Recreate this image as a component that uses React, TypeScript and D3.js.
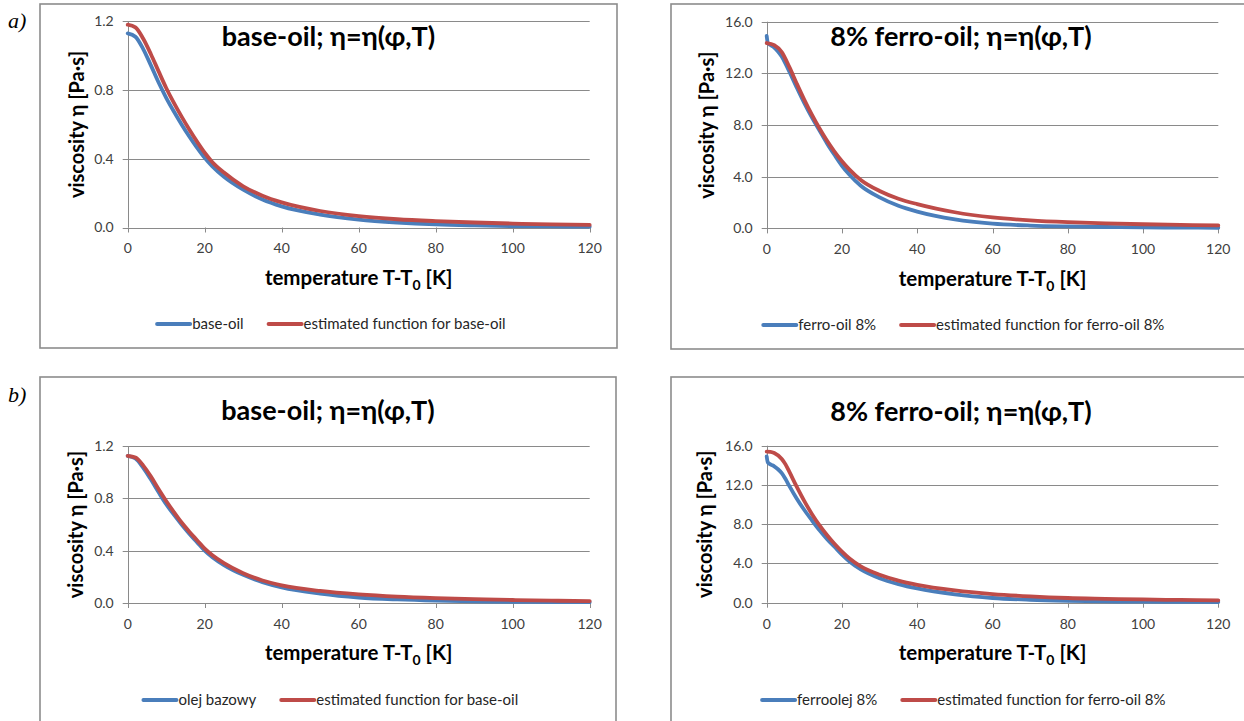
import React from 'react';
import * as d3 from 'd3';

// ---------- data ----------
const tempGrid = [0, 2, 4, 6, 8, 10, 12, 14, 16, 18, 20, 22, 25, 30, 35, 40, 50, 60, 70, 80, 90, 100, 110, 120];
const ferroTempMeasured = [0, 0.3, 1, 2, 3, 4, 5, 6, 8, 10, 12, 14, 16, 18, 20, 22, 25, 30, 35, 40, 50, 60, 70, 80, 90, 100, 110, 120];
const ferroTempEstimatedB = [0, 1, 2, 4, 5, 6, 8, 10, 12, 14, 16, 18, 20, 22, 25, 30, 35, 40, 50, 60, 70, 80, 90, 100, 110, 120];

const baseOilMeasuredA = [1.13, 1.11, 1.04, 0.945, 0.845, 0.755, 0.675, 0.6, 0.53, 0.465, 0.405, 0.355, 0.295, 0.22, 0.163, 0.123, 0.075, 0.046, 0.029, 0.018, 0.012, 0.008, 0.006, 0.005];
const baseOilEstimatedA = [1.18, 1.165, 1.1, 1.01, 0.91, 0.812, 0.725, 0.645, 0.57, 0.5, 0.435, 0.38, 0.32, 0.24, 0.185, 0.146, 0.096, 0.066, 0.048, 0.037, 0.029, 0.023, 0.018, 0.015];

const ferroMeasuredA = [14.9, 14.35, 14.2, 14.0, 13.7, 13.3, 12.75, 12.15, 10.9, 9.7, 8.6, 7.6, 6.6, 5.7, 4.85, 4.15, 3.3, 2.4, 1.75, 1.3, 0.7, 0.37, 0.22, 0.15, 0.11, 0.08, 0.06, 0.05];
const ferroEstimatedA = [14.35, 14.18, 13.65, 12.5, 11.2, 9.95, 8.8, 7.75, 6.8, 5.95, 5.2, 4.55, 3.75, 2.9, 2.3, 1.88, 1.25, 0.85, 0.62, 0.48, 0.39, 0.32, 0.27, 0.23];

const baseOilMeasuredB = [1.125, 1.105, 1.035, 0.945, 0.848, 0.755, 0.675, 0.6, 0.53, 0.465, 0.4, 0.35, 0.29, 0.215, 0.16, 0.12, 0.072, 0.042, 0.027, 0.018, 0.013, 0.009, 0.007, 0.006];
const baseOilEstimatedB = [1.125, 1.112, 1.052, 0.968, 0.872, 0.78, 0.695, 0.615, 0.545, 0.48, 0.415, 0.365, 0.305, 0.228, 0.172, 0.135, 0.092, 0.066, 0.049, 0.038, 0.03, 0.023, 0.018, 0.015];

const ferroMeasuredB = [14.9, 14.3, 14.1, 13.9, 13.6, 13.2, 12.6, 11.9, 10.6, 9.45, 8.4, 7.4, 6.5, 5.7, 4.9, 4.2, 3.4, 2.5, 1.9, 1.45, 0.85, 0.48, 0.3, 0.2, 0.14, 0.1, 0.08, 0.07];
const ferroEstimatedB = [15.4, 15.38, 15.25, 14.65, 14.1, 13.35, 11.8, 10.35, 9.05, 7.9, 6.9, 6.0, 5.2, 4.5, 3.7, 2.85, 2.25, 1.82, 1.25, 0.88, 0.64, 0.48, 0.4, 0.33, 0.28, 0.24];

const xTicks = [0, 20, 40, 60, 80, 100, 120];
const yTicksBase = [0, 0.4, 0.8, 1.2];
const yTicksFerro = [0, 4, 8, 12, 16];

const BLUE = '#4a7ebb';
const RED = '#be4b48';
const FONT = "Lato, 'Open Sans', 'DejaVu Sans', sans-serif";

let ctx: CanvasRenderingContext2D | null = null;
function textWidth(s: string, font: string) {
  if (!ctx) ctx = document.createElement('canvas').getContext('2d');
  if (!ctx) return s.length * 7;
  ctx.font = font;
  return ctx.measureText(s).width;
}

type Series = { t: number[]; v: number[]; color: string; label: string };

type PanelProps = {
  fx: number; fy: number; fw: number; fh: number;
  px0: number; px1: number; py0: number; py1: number;
  yMax: number; yTicks: number[];
  title: string; titleY: number; ticksY: number; xTitleY: number; legendY: number; yTitleX: number;
  series: Series[];
};

function Panel(p: PanelProps) {
  const x = d3.scaleLinear().domain([0, 120]).range([p.px0, p.px1]);
  const y = d3.scaleLinear().domain([0, p.yMax]).range([p.py1, p.py0]);
  const line = d3.line<[number, number]>().x(d => x(d[0])).y(d => y(d[1])).curve(d3.curveMonotoneX);
  const cx = p.fx + p.fw / 2;
  const legFont = `15px ${FONT}`;
  const w1 = textWidth(p.series[0].label, legFont);
  const w2 = textWidth(p.series[1].label, legFont);
  const lineLen = 33, gap = 2, itemGap = 25;
  const total = 2 * (lineLen + gap) + w1 + w2 + itemGap;
  const lx = cx + 3 - total / 2;
  const items = [
    { x: lx, s: p.series[0] },
    { x: lx + lineLen + gap + w1 + itemGap, s: p.series[1] },
  ];
  return (
    <g>
      <rect x={p.fx} y={p.fy} width={p.fw} height={p.fh} fill="#fff" stroke="#8c8c8c" strokeWidth={1.6} />
      {p.yTicks.map(t => (
        <g key={'g' + t}>
          <line x1={p.px0 - 5} x2={p.px1} y1={Math.round(y(t)) + 0.5} y2={Math.round(y(t)) + 0.5} stroke="#8a8a8a" strokeWidth={1} />
          <text x={p.px0 - 14} y={y(t)} dy="0.35em" textAnchor="end" fontFamily={FONT} fontSize={14} fill="#404040">
            {t.toFixed(1)}
          </text>
        </g>
      ))}
      <line x1={Math.round(p.px0) + 0.5} x2={Math.round(p.px0) + 0.5} y1={p.py0} y2={p.py1} stroke="#8a8a8a" strokeWidth={1} />
      {xTicks.map(t => (
        <g key={'x' + t}>
          <line x1={Math.round(x(t)) + 0.5} x2={Math.round(x(t)) + 0.5} y1={p.py1} y2={p.py1 + 5} stroke="#8a8a8a" strokeWidth={1} />
          <text x={x(t)} y={p.ticksY} dy="0.35em" textAnchor="middle" fontFamily={FONT} fontSize={14} fill="#404040">
            {t}
          </text>
        </g>
      ))}
      {p.series.map((s, i) => (
        <path key={'s' + i} d={line(s.t.map((tt, j) => [tt, s.v[j]] as [number, number])) || ''} fill="none" stroke={s.color} strokeWidth={3.8} strokeLinejoin="round" strokeLinecap="round" />
      ))}
      <text x={cx} y={p.titleY} dy="0.35em" textAnchor="middle" fontFamily={FONT} fontWeight="bold" fontSize={27} fill="#000">
        {p.title}
      </text>
      <text x={(p.px0 + p.px1) / 2} y={p.xTitleY} dy="0.35em" textAnchor="middle" fontFamily={FONT} fontWeight="bold" fontSize={20.5} fill="#000">
        temperature T-T<tspan fontSize={14} dy="5">0</tspan><tspan dy="-5"> [K]</tspan>
      </text>
      <text transform={`translate(${p.yTitleX},${(p.py0 + p.py1) / 2}) rotate(-90)`} dy="0.35em" textAnchor="middle" fontFamily={FONT} fontWeight="bold" fontSize={20} fill="#000">
        viscosity η [Pa·s]
      </text>
      {items.map((it, i) => (
        <g key={'l' + i}>
          <line x1={it.x} x2={it.x + lineLen} y1={p.legendY} y2={p.legendY} stroke={it.s.color} strokeWidth={4} strokeLinecap="round" />
          <text x={it.x + lineLen + gap} y={p.legendY} dy="0.35em" fontFamily={FONT} fontSize={15} fill="#262626">
            {it.s.label}
          </text>
        </g>
      ))}
    </g>
  );
}

export default function App() {
  const base = { yMax: 1.2, yTicks: yTicksBase };
  const ferro = { yMax: 16, yTicks: yTicksFerro };
  return (
    <svg width={1244} height={721} style={{ position: 'absolute', left: 0, top: 0, background: '#fff' }}>
      <rect x={0} y={0} width={1244} height={721} fill="#fff" />
      <Panel fx={40} fy={4} fw={577} fh={344} px0={127.7} px1={589.7} py0={21.3} py1={227.5} {...base}
        title="base-oil; η=η(φ,T)" titleY={37} ticksY={248} xTitleY={278} legendY={324} yTitleX={77}
        series={[
          { t: tempGrid, v: baseOilMeasuredA, color: BLUE, label: 'base-oil' },
          { t: tempGrid, v: baseOilEstimatedA, color: RED, label: 'estimated function for base-oil' },
        ]} />
      <Panel fx={671} fy={4} fw={580} fh={345} px0={766.7} px1={1218.3} py0={21.7} py1={228.4} {...ferro}
        title="8% ferro-oil; η=η(φ,T)" titleY={37} ticksY={249} xTitleY={279} legendY={325} yTitleX={707}
        series={[
          { t: ferroTempMeasured, v: ferroMeasuredA, color: BLUE, label: 'ferro-oil 8%' },
          { t: tempGrid, v: ferroEstimatedA, color: RED, label: 'estimated function for ferro-oil 8%' },
        ]} />
      <Panel fx={40} fy={377} fw={576} fh={360} px0={127.7} px1={589.7} py0={446} py1={603} {...base}
        title="base-oil; η=η(φ,T)" titleY={411} ticksY={624} xTitleY={653} legendY={700} yTitleX={76}
        series={[
          { t: tempGrid, v: baseOilMeasuredB, color: BLUE, label: 'olej bazowy' },
          { t: tempGrid, v: baseOilEstimatedB, color: RED, label: 'estimated function for base-oil' },
        ]} />
      <Panel fx={671} fy={377} fw={580} fh={360} px0={766.7} px1={1218.3} py0={445.7} py1={602.7} {...ferro}
        title="8% ferro-oil; η=η(φ,T)" titleY={412} ticksY={624} xTitleY={653} legendY={700} yTitleX={705}
        series={[
          { t: ferroTempMeasured, v: ferroMeasuredB, color: BLUE, label: 'ferroolej 8%' },
          { t: ferroTempEstimatedB, v: ferroEstimatedB, color: RED, label: 'estimated function for ferro-oil 8%' },
        ]} />
      <text x={8} y={28} fontFamily="'Liberation Serif', 'DejaVu Serif', serif" fontStyle="italic" fontSize={22} fill="#000">a)</text>
      <text x={8} y={402} fontFamily="'Liberation Serif', 'DejaVu Serif', serif" fontStyle="italic" fontSize={22} fill="#000">b)</text>
    </svg>
  );
}
